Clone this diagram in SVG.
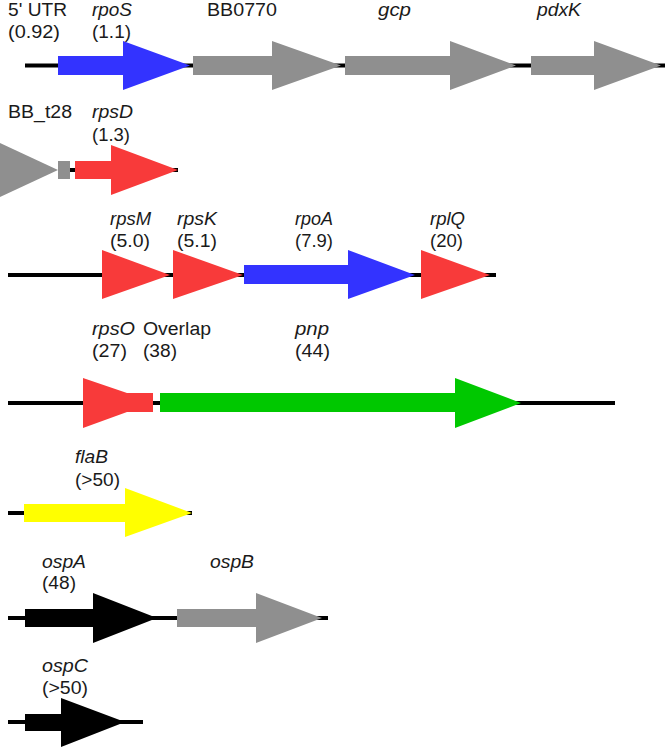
<svg xmlns="http://www.w3.org/2000/svg" width="666" height="748" viewBox="0 0 666 748">
<style>
text{font-family:"Liberation Sans",Arial,sans-serif;font-size:18px;fill:#1a1a1a}
.i{font-style:italic}
.ln{stroke:#000;stroke-width:4;fill:none}
.blue{fill:#3333ff}.gray{fill:#8f8f8f}.red{fill:#f83a3a}.green{fill:#00c800}.yel{fill:#ffff00}.blk{fill:#000}
</style>
<rect width="666" height="748" fill="#fff"/>
<g id="connectors">
<line class="ln" x1="25" y1="65.5" x2="665" y2="65.5"/>
<line class="ln" x1="68" y1="170" x2="178" y2="170"/>
<line class="ln" x1="8" y1="275" x2="496" y2="275"/>
<line class="ln" x1="8" y1="403" x2="615" y2="403"/>
<line class="ln" x1="8" y1="513" x2="192" y2="513"/>
<line class="ln" x1="8" y1="618" x2="328" y2="618"/>
<line class="ln" x1="8" y1="722" x2="143" y2="722"/>
</g>
<g id="row1-labels">
<text x="8" y="16" textLength="59" lengthAdjust="spacingAndGlyphs">5' UTR</text>
<text x="8" y="38" textLength="52" lengthAdjust="spacingAndGlyphs">(0.92)</text>
</g>
<g id="rpoS">
<polygon class="blue" points="58,56 123,56 123,41 190,65.5 123,90 123,75 58,75"/>
<text class="i" x="92" y="16" textLength="40" lengthAdjust="spacingAndGlyphs">rpoS</text>
<text x="92" y="38" textLength="39" lengthAdjust="spacingAndGlyphs">(1.1)</text>
</g>
<g id="BB0770">
<polygon class="gray" points="193,56 272,56 272,41 341,65.5 272,90 272,75 193,75"/>
<text x="207" y="16" textLength="70" lengthAdjust="spacingAndGlyphs">BB0770</text>
</g>
<g id="gcp">
<polygon class="gray" points="345,56 450,56 450,41 516,65.5 450,90 450,75 345,75"/>
<text class="i" x="378" y="16" textLength="33" lengthAdjust="spacingAndGlyphs">gcp</text>
</g>
<g id="pdxK">
<polygon class="gray" points="531,56 594,56 594,41 661,65.5 594,90 594,75 531,75"/>
<text class="i" x="537" y="16" textLength="44" lengthAdjust="spacingAndGlyphs">pdxK</text>
</g>
<g id="BB_t28">
<polygon class="gray" points="0,143 58,170 0,197"/>
<rect class="gray" x="58" y="161" width="12" height="18"/>
<text x="8" y="118" textLength="64" lengthAdjust="spacingAndGlyphs">BB_t28</text>
</g>
<g id="rpsD">
<polygon class="red" points="75,161 111,161 111,145 178,170 111,195 111,179 75,179"/>
<text class="i" x="92" y="118" textLength="41" lengthAdjust="spacingAndGlyphs">rpsD</text>
<text x="92" y="141" textLength="38" lengthAdjust="spacingAndGlyphs">(1.3)</text>
</g>
<g id="rpsM">
<polygon class="red" points="102,250 170,275 102,299"/>
<text class="i" x="110" y="225" textLength="41" lengthAdjust="spacingAndGlyphs">rpsM</text>
<text x="110" y="247" textLength="40" lengthAdjust="spacingAndGlyphs">(5.0)</text>
</g>
<g id="rpsK">
<polygon class="red" points="173,250 243,275 173,299"/>
<text class="i" x="177" y="225" textLength="40" lengthAdjust="spacingAndGlyphs">rpsK</text>
<text x="177" y="247" textLength="40" lengthAdjust="spacingAndGlyphs">(5.1)</text>
</g>
<g id="rpoA">
<polygon class="blue" points="244,265 348,265 348,250 415,275 348,299 348,284 244,284"/>
<text class="i" x="295" y="225" textLength="38" lengthAdjust="spacingAndGlyphs">rpoA</text>
<text x="295" y="247" textLength="38" lengthAdjust="spacingAndGlyphs">(7.9)</text>
</g>
<g id="rplQ">
<polygon class="red" points="421,250 490,275 421,299"/>
<text class="i" x="430" y="225" textLength="35" lengthAdjust="spacingAndGlyphs">rplQ</text>
<text x="430" y="247" textLength="33" lengthAdjust="spacingAndGlyphs">(20)</text>
</g>
<g id="rpsO">
<polygon class="red" points="83,378 127,393 153,393 153,412 127,412 83,428"/>
<text class="i" x="92" y="335" textLength="43" lengthAdjust="spacingAndGlyphs">rpsO</text>
<text x="92" y="357" textLength="35" lengthAdjust="spacingAndGlyphs">(27)</text>
</g>
<g id="overlap">
<text x="143" y="335" textLength="68" lengthAdjust="spacingAndGlyphs">Overlap</text>
<text x="143" y="357" textLength="34" lengthAdjust="spacingAndGlyphs">(38)</text>
</g>
<g id="pnp">
<polygon class="green" points="160,393 455,393 455,378 521,403 455,428 455,412 160,412"/>
<text class="i" x="295" y="335" textLength="34" lengthAdjust="spacingAndGlyphs">pnp</text>
<text x="295" y="357" textLength="35" lengthAdjust="spacingAndGlyphs">(44)</text>
</g>
<g id="flaB">
<polygon class="yel" points="24,504 125,504 125,488 192,513 125,537 125,522 24,522"/>
<text class="i" x="75" y="463" textLength="33" lengthAdjust="spacingAndGlyphs">flaB</text>
<text x="75" y="486" textLength="45" lengthAdjust="spacingAndGlyphs">(&gt;50)</text>
</g>
<g id="ospA">
<polygon class="blk" points="25,609 93,609 93,593 157,618 93,643 93,627 25,627"/>
<text class="i" x="42" y="568" textLength="44" lengthAdjust="spacingAndGlyphs">ospA</text>
<text x="42" y="589" textLength="34" lengthAdjust="spacingAndGlyphs">(48)</text>
</g>
<g id="ospB">
<polygon class="gray" points="177,609 256,609 256,593 322,618 256,643 256,627 177,627"/>
<text class="i" x="210" y="568" textLength="44" lengthAdjust="spacingAndGlyphs">ospB</text>
</g>
<g id="ospC">
<polygon class="blk" points="25,714 61,714 61,698 125,722 61,747 61,731 25,731"/>
<text class="i" x="42" y="672" textLength="46" lengthAdjust="spacingAndGlyphs">ospC</text>
<text x="42" y="694" textLength="46" lengthAdjust="spacingAndGlyphs">(&gt;50)</text>
</g>
</svg>
